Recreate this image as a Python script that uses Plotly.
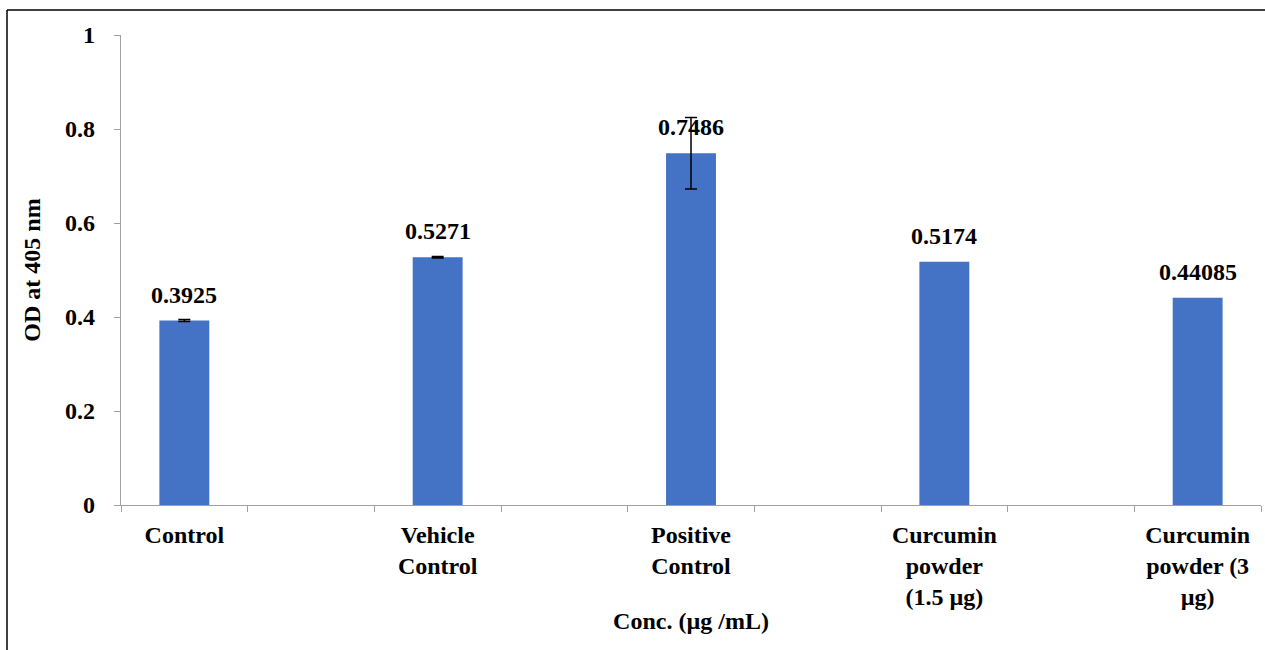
import plotly.graph_objects as go

categories = ["Control", "Vehicle<br>Control", "Positive<br>Control",
              "Curcumin<br>powder<br>(1.5 µg)", "Curcumin<br>powder (3<br>µg)"]
values = [0.3925, 0.5271, 0.7486, 0.5174, 0.44085]
errors = [0.002, 0.0015, 0.076, None, None]
value_labels = ["0.3925", "0.5271", "0.7486", "0.5174", "0.44085"]

FONT = "Liberation Serif"
FS = 24
BAR = "#4472C4"
AX = "#a0a0a0"

xpos = list(range(len(categories)))

fig = go.Figure()
fig.add_trace(go.Bar(
    x=xpos, y=values, width=0.197,
    marker=dict(color=BAR, line=dict(width=0)),
    hoverinfo="skip",
))

# error bars only where an error value exists
ex = [x for x, e in zip(xpos, errors) if e is not None]
ey = [v for v, e in zip(values, errors) if e is not None]
ee = [e for e in errors if e is not None]
fig.add_trace(go.Scatter(
    x=ex, y=ey, mode="markers", marker=dict(size=0.1, opacity=0),
    error_y=dict(type="data", array=ee, visible=True,
                 color="black", thickness=1.5, width=6),
    hoverinfo="skip",
))

for xi, v, lab in zip(xpos, values, value_labels):
    fig.add_annotation(x=xi, y=v, text=lab, showarrow=False,
                       yanchor="bottom", yshift=11,
                       font=dict(family=FONT, size=FS, color="black", weight="bold"))

W, H = 1265, 650
ml, mr, mt, mb = 121, 4, 35, 145
pw = W - ml - mr
ph = H - mt - mb

def px_x(p):
    return (p - ml) / pw

def px_y(p):
    return (H - mb - p) / ph

# outer frame: only top and left edges visible in reference
border = dict(color="black", width=1.5)
fig.add_shape(type="line", xref="paper", yref="paper",
              x0=px_x(7), x1=px_x(1266), y0=px_y(10), y1=px_y(10), line=border)
fig.add_shape(type="line", xref="paper", yref="paper",
              x0=px_x(7), x1=px_x(7), y0=px_y(10), y1=px_y(660), line=border)

tf = dict(family=FONT, size=FS, color="black", weight="bold")

fig.update_layout(
    width=W, height=H,
    margin=dict(l=ml, r=mr, t=mt, b=mb),
    paper_bgcolor="white", plot_bgcolor="white",
    showlegend=False,
    font=tf,
    xaxis=dict(
        range=[-0.25, len(categories) - 0.75],
        tickmode="array", tickvals=xpos, ticktext=categories,
        ticks="", showgrid=False, zeroline=False,
        showline=True, linecolor=AX, linewidth=1.3,
        ticklabelstandoff=8,
        tickfont=tf,
        minor=dict(ticks="outside", tick0=-0.25, dtick=0.5,
                   ticklen=6, tickcolor=AX, tickwidth=1.3, showgrid=False),
        title=dict(text="Conc. (µg /mL)", standoff=2, font=tf),
    ),
    yaxis=dict(
        range=[0, 1], tickmode="array",
        tickvals=[0, 0.2, 0.4, 0.6, 0.8, 1.0],
        ticktext=["0", "0.2", "0.4", "0.6", "0.8", "1"],
        ticks="outside", ticklen=6, tickcolor=AX, tickwidth=1.3,
        showgrid=False, zeroline=False,
        showline=True, linecolor=AX, linewidth=1.3,
        ticklabelstandoff=14,
        tickfont=tf,
        title=dict(text="OD at 405 nm", standoff=17, font=tf),
    ),
)

fig.write_html("out.html", config={"displayModeBar": False},
               post_script="document.body.style.margin='0px';")
